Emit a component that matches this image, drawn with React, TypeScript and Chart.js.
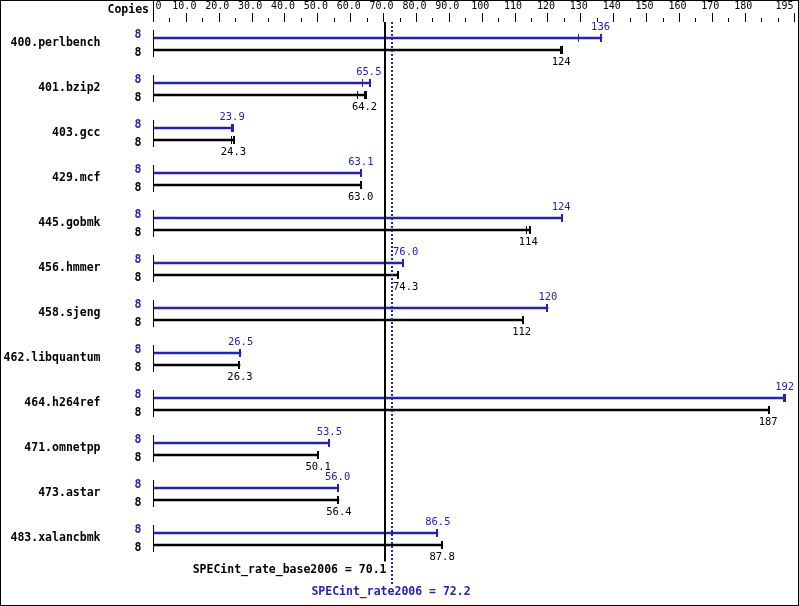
import React, { useEffect, useRef } from "react";
import { Chart, registerables } from "chart.js";

Chart.register(...registerables);

const benchmarks = [
  "400.perlbench",
  "401.bzip2",
  "403.gcc",
  "429.mcf",
  "445.gobmk",
  "456.hmmer",
  "458.sjeng",
  "462.libquantum",
  "464.h264ref",
  "471.omnetpp",
  "473.astar",
  "483.xalancbmk",
];

const peakCopies = [8, 8, 8, 8, 8, 8, 8, 8, 8, 8, 8, 8];
const baseCopies = [8, 8, 8, 8, 8, 8, 8, 8, 8, 8, 8, 8];

const peakValues = [136, 65.5, 23.9, 63.1, 124, 76.0, 120, 26.5, 192, 53.5, 56.0, 86.5];
const baseValues = [124, 64.2, 24.3, 63.0, 114, 74.3, 112, 26.3, 187, 50.1, 56.4, 87.8];

const peakRuns = [
  [129.2, 136.4],
  [63.7, 65.9],
  [23.8, 24.3],
  [63.3],
  [124.0, 124.4],
  [76.0],
  [120.0],
  [26.6],
  [191.7, 192.2],
  [53.4],
  [56.3],
  [86.5],
];
const baseRuns = [
  [123.7, 124.3],
  [62.2, 64.1, 64.7],
  [23.6, 24.2, 24.6],
  [63.2],
  [113.6, 114.6],
  [74.5],
  [112.6],
  [26.3],
  [187.0, 187.4],
  [50.2],
  [56.4],
  [88.0],
];

const majorTicks = [0, 10, 20, 30, 40, 50, 60, 70, 80, 90, 100, 110, 120, 130, 140, 150, 160, 170, 180, 195];
const majorTickLabels = ["0", "10.0", "20.0", "30.0", "40.0", "50.0", "60.0", "70.0", "80.0", "90.0", "100", "110", "120", "130", "140", "150", "160", "170", "180", "195"];
const minorTicks = [5, 15, 25, 35, 45, 55, 65, 75, 85, 95, 105, 115, 125, 135, 145, 155, 165, 175, 185, 190];

const specBase = 70.1;
const specPeak = 72.2;
const specBaseLabel = "SPECint_rate_base2006 = 70.1";
const specPeakLabel = "SPECint_rate2006 = 72.2";

const BLUE = "#2424aa";
const BLACK = "#000000";
const MONO = '"DejaVu Sans Mono", monospace';

const fmt = (v: number) => (v >= 100 ? v.toFixed(0) : v.toFixed(1));

const peakEnds = peakRuns.map((r) => Math.max(...r));
const baseEnds = baseRuns.map((r) => Math.max(...r));

const specPlugin = {
  id: "specPlugin",
  beforeDraw(chart: any) {
    const ctx = chart.ctx;
    ctx.save();
    ctx.fillStyle = "#ffffff";
    ctx.fillRect(0, 0, chart.width, chart.height);
    ctx.restore();
  },
  afterDraw(chart: any) {
    const ctx = chart.ctx;
    const xs = chart.scales.x;
    const ys = chart.scales.y;
    const area = chart.chartArea;
    const left = Math.floor(xs.getPixelForValue(0));
    const bx = Math.round(xs.getPixelForValue(specBase));
    const px = Math.round(xs.getPixelForValue(specPeak));
    ctx.save();

    // header
    ctx.fillStyle = BLACK;
    ctx.fillRect(left, 0, 1, 22);
    majorTicks.forEach((t) => {
      const x = Math.floor(xs.getPixelForValue(t));
      if (t !== 0) ctx.fillRect(x, 13, 1, 9);
    });
    minorTicks.forEach((t) => {
      const x = Math.floor(xs.getPixelForValue(t));
      ctx.fillRect(x, 18, 1, 4);
    });
    ctx.font = `10px ${MONO}`;
    ctx.textBaseline = "middle";
    majorTicks.forEach((t, i) => {
      const x = xs.getPixelForValue(t);
      if (i === 0) {
        ctx.textAlign = "left";
        ctx.fillText(majorTickLabels[i], x + 2, 6.5);
      } else if (i === majorTicks.length - 1) {
        ctx.textAlign = "right";
        ctx.fillText(majorTickLabels[i], x - 1, 6.5);
      } else {
        ctx.textAlign = "center";
        ctx.fillText(majorTickLabels[i], x - 2, 6.5);
      }
    });
    ctx.font = `bold 11.5px ${MONO}`;
    ctx.textAlign = "right";
    ctx.fillText("Copies", 149, 10);

    // value label placed to avoid the reference lines
    const valueLabel = (text: string, cx: number, y: number) => {
      const w = ctx.measureText(text).width;
      let l = cx - w / 2;
      if (l < px + 2 && l + w > bx) l = px + 2;
      ctx.textAlign = "left";
      ctx.fillText(text, l, y);
    };

    // per benchmark
    benchmarks.forEach((name, i) => {
      const cy = ys.getPixelForValue(i);
      const by = cy - 6;
      const ky = cy + 6;
      ctx.fillStyle = BLACK;
      ctx.fillRect(left, cy - 14, 1, 27);

      ctx.font = `bold 11.5px ${MONO}`;
      ctx.textBaseline = "middle";
      ctx.textAlign = "right";
      ctx.fillText(name, 100.5, cy - 0.5);

      ctx.textAlign = "center";
      ctx.fillStyle = BLUE;
      ctx.fillText(String(peakCopies[i]), 138, cy - 9);
      ctx.fillStyle = BLACK;
      ctx.fillText(String(baseCopies[i]), 138, cy + 9);

      // run ticks
      const drawTicks = (runs: number[], y: number, color: string) => {
        ctx.fillStyle = color;
        const mx = Math.max(...runs);
        runs.forEach((v) => {
          const x = Math.floor(xs.getPixelForValue(v));
          if (v === mx) ctx.fillRect(x - 1, y - 4, 2, 8);
          else ctx.fillRect(x, y - 4, 1, 8);
        });
      };
      drawTicks(peakRuns[i], by, BLUE);
      drawTicks(baseRuns[i], ky, BLACK);

      ctx.font = `10.5px ${MONO}`;
      ctx.fillStyle = BLUE;
      valueLabel(fmt(peakValues[i]), xs.getPixelForValue(peakValues[i]), by - 11);
      ctx.fillStyle = BLACK;
      valueLabel(fmt(baseValues[i]), xs.getPixelForValue(baseValues[i]), ky + 12);
    });

    // reference lines
    ctx.fillStyle = BLACK;
    ctx.fillRect(bx, 22, 2, area.bottom - 22);
    ctx.fillStyle = BLUE;
    for (let y = 22; y < 583; y += 4) ctx.fillRect(px, y, 2, 2);

    ctx.font = `bold 11.5px ${MONO}`;
    ctx.textBaseline = "middle";
    ctx.textAlign = "right";
    ctx.fillStyle = BLACK;
    ctx.fillText(specBaseLabel, bx + 2.5, 570);
    ctx.textAlign = "center";
    ctx.fillStyle = BLUE;
    ctx.fillText(specPeakLabel, px, 592);

    // border
    ctx.strokeStyle = BLACK;
    ctx.lineWidth = 1;
    ctx.strokeRect(0.5, 0.5, chart.width - 1, chart.height - 1);
    ctx.restore();
  },
};

export default function App() {
  const ref = useRef<HTMLCanvasElement>(null);
  useEffect(() => {
    document.body.style.margin = "0";
    const canvas = ref.current!;
    const chart = new Chart(canvas, {
      type: "bar",
      data: {
        labels: benchmarks,
        datasets: [
          {
            label: "peak",
            data: peakEnds,
            backgroundColor: BLUE,
            borderWidth: 0,
            barThickness: 12,
            maxBarThickness: 2,
          },
          {
            label: "base",
            data: baseEnds,
            backgroundColor: BLACK,
            borderWidth: 0,
            barThickness: 12,
            maxBarThickness: 2,
          },
        ],
      },
      options: {
        indexAxis: "y",
        responsive: false,
        animation: false,
        devicePixelRatio: 1,
        layout: { padding: { left: 153.5, top: 21.5, right: 4.5, bottom: 44.5 } },
        plugins: { legend: { display: false }, tooltip: { enabled: false } },
        scales: {
          x: { type: "linear", min: 0, max: 195, display: false },
          y: { type: "category", display: false, offset: true },
        },
      },
      plugins: [specPlugin],
    } as any);
    return () => chart.destroy();
  }, []);
  return (
    <canvas
      ref={ref}
      width={799}
      height={606}
      style={{ display: "block", width: 799, height: 606 }}
    />
  );
}
